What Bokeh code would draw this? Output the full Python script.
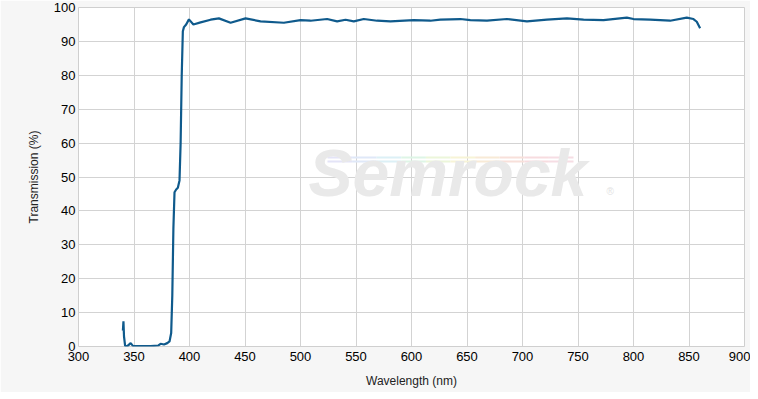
from bokeh.plotting import figure
from bokeh.models import Range1d, FixedTicker, Label, BoxAnnotation
from bokeh.embed import file_html
from bokeh.resources import INLINE

wavelength = [340, 340.5, 341, 342, 344, 347, 349, 355, 365, 372, 374, 377, 380, 382, 383.5, 384.5,
              385.5, 386.5, 388, 389.5, 391, 392, 393, 394, 395, 397, 399.5, 403.5, 410,
              419, 426.5, 437, 450.5, 464, 485, 500, 509, 524, 533, 540.6, 548, 557, 569, 581,
              602, 617, 626, 644, 653, 668, 686, 704, 722, 740, 755, 773, 794, 800, 815, 833,
              848, 854, 857, 860]
transmission = [4.7, 7.4, 3.0, 0.2, 0.1, 1.0, 0.2, 0.1, 0.1, 0.3, 0.8, 0.6, 1.0, 1.5, 4.0, 15.0,
                35.0, 45.5, 46.3, 46.8, 49.0, 60.0, 80.0, 93.0, 94.2, 95.0, 96.5, 95.0, 95.6,
                96.4, 96.8, 95.5, 96.8, 95.9, 95.5, 96.3, 96.1, 96.6, 95.9, 96.4, 95.9, 96.6, 96.1, 95.9,
                96.3, 96.1, 96.4, 96.6, 96.3, 96.1, 96.6, 95.9, 96.4, 96.8, 96.4, 96.3, 97.0, 96.6, 96.4, 96.1,
                97.0, 96.6, 95.8, 93.9]

x_ticks = [300, 350, 400, 450, 500, 550, 600, 650, 700, 750, 800, 850, 900]
y_ticks = [0, 10, 20, 30, 40, 50, 60, 70, 80, 90, 100]

p = figure(width=750, height=392, output_backend="svg", toolbar_location=None,
           x_range=Range1d(300, 900), y_range=Range1d(0, 100),
           min_border_left=78, min_border_right=6, min_border_top=7, min_border_bottom=46,
           background_fill_color="white", border_fill_color="#f6f6f6")

p.outline_line_color = "#cfcfcf"
p.outline_line_width = 1

for g in (p.xgrid, p.ygrid):
    g.grid_line_color = "#d3d3d3"
    g.grid_line_width = 1

p.xaxis.ticker = FixedTicker(ticks=x_ticks)
p.yaxis.ticker = FixedTicker(ticks=y_ticks)

for ax in (p.xaxis, p.yaxis):
    ax.axis_line_color = None
    ax.major_tick_line_color = None
    ax.minor_tick_line_color = None
    ax.major_tick_out = 0
    ax.major_tick_in = 0
    ax.major_label_text_font = "Liberation Sans"
    ax.major_label_text_font_size = "13px"
    ax.major_label_text_color = "#000000"
    ax.axis_label_text_font = "Liberation Sans"
    ax.axis_label_text_font_size = "12px"
    ax.axis_label_text_font_style = "normal"
    ax.axis_label_text_color = "#222222"

p.xaxis.major_label_standoff = 5
p.yaxis.major_label_standoff = 3
p.xaxis.axis_label = "Wavelength (nm)"
p.yaxis.axis_label = "Transmission (%)"
p.xaxis.axis_label_standoff = 10
p.yaxis.axis_label_standoff = 10

# watermark: rainbow streaks + logo text (screen units relative to the frame)
streak_colors = ["#e4e4f7", "#dfe8f8", "#dcf0f6", "#def5e6", "#ecf6da", "#f7f4d6",
                 "#f8ead6", "#f8e0da", "#f7dcdf", "#f6dde4"]
x0, x1 = 249, 495
seg = (x1 - x0) / len(streak_colors)
for i, c in enumerate(streak_colors):
    for top, bot in ((190, 188), (186, 184)):
        p.add_layout(BoxAnnotation(left=x0 + i * seg, right=x0 + (i + 1) * seg, top=top, bottom=bot,
                                   left_units="screen", right_units="screen",
                                   top_units="screen", bottom_units="screen",
                                   fill_color=c, fill_alpha=1.0, line_color=None, level="underlay"))

wm = Label(x=230, y=174, x_units="screen", y_units="screen", text="Semrock",
           text_font="Liberation Sans", text_font_style="bold italic", text_baseline="alphabetic",
           text_font_size="66px", text_color="#e9e9e9", level="underlay")
p.add_layout(wm)
reg = Label(x=528, y=155, x_units="screen", y_units="screen", text="®", text_baseline="alphabetic",
            text_font="Liberation Sans", text_font_size="10px", text_color="#e3e3e3", level="underlay")
p.add_layout(reg)

p.line(wavelength, transmission, line_color="#0f5a8c", line_width=2.2)

open("out.html", "w").write(file_html(p, INLINE))
